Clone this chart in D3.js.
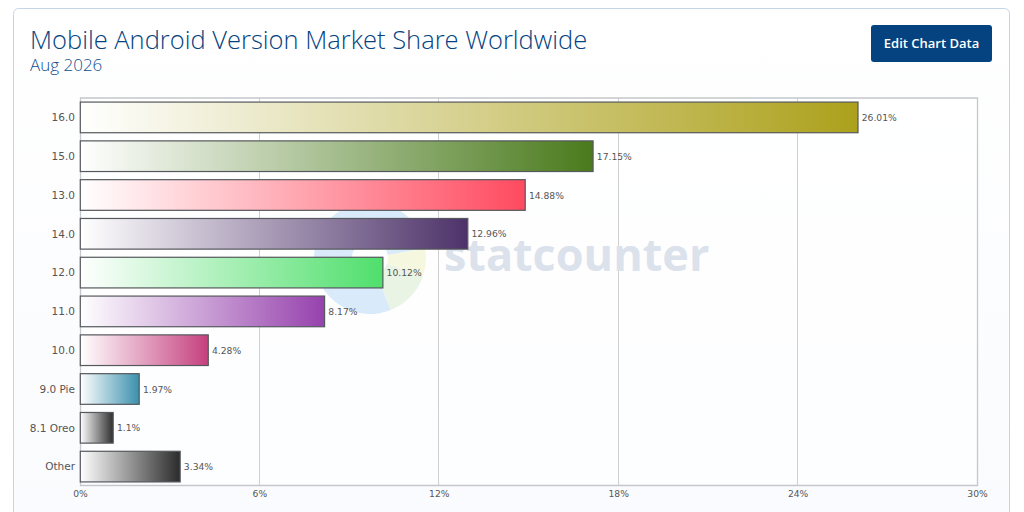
<!DOCTYPE html>
<html>
<head>
<meta charset="utf-8">
<script src="https://cdn.jsdelivr.net/npm/d3@7"></script>
<style>
html, body { margin: 0; padding: 0; background: #fff; overflow: hidden; }
text { font-family: "DejaVu Sans", sans-serif; }
</style>
</head>
<body>
<div id="chart"></div>
<script>
var versions = ["16.0", "15.0", "13.0", "14.0", "12.0", "11.0", "10.0", "9.0 Pie", "8.1 Oreo", "Other"];
var shares = [26.01, 17.15, 14.88, 12.96, 10.12, 8.17, 4.28, 1.97, 1.1, 3.34];
var barColors = ["#aca11c", "#4a7a1c", "#ff4a5f", "#4d3269", "#4fdf6c", "#9642ad", "#c5407e", "#3a90ad", "#2e2e2e", "#2b2b2b"];
var xTicks = [0, 6, 12, 18, 24, 30];

var svgWidth = 1024;
var svgHeight = 512;
var margin = { top: 98, right: 47, bottom: 26, left: 80 };

var svg = d3.select("#chart")
    .append("svg")
    .attr("width", svgWidth)
    .attr("height", svgHeight)
    .style("display", "block");

var defs = svg.append("defs");

var cardGrad = defs.append("linearGradient")
    .attr("id", "cardGrad")
    .attr("x1", 0).attr("y1", 0).attr("x2", 0).attr("y2", 1);
cardGrad.append("stop").attr("offset", "0%").attr("stop-color", "#ffffff");
cardGrad.append("stop").attr("offset", "100%").attr("stop-color", "#fafbfe");

// one white-to-colour gradient per bar
versions.forEach(function (v, i) {
    var g = defs.append("linearGradient")
        .attr("id", "barGrad" + i)
        .attr("x1", 0).attr("y1", 0).attr("x2", 1).attr("y2", 0);
    g.append("stop").attr("offset", "0%").attr("stop-color", "#ffffff");
    g.append("stop").attr("offset", "100%").attr("stop-color", barColors[i]);
});

// card
svg.append("rect")
    .attr("x", 13.5).attr("y", 8.5)
    .attr("width", 996).attr("height", 530)
    .attr("rx", 5)
    .attr("fill", "url(#cardGrad)")
    .attr("stroke", "#c5d5e8");

// heading
svg.append("text")
    .attr("x", 30).attr("y", 49)
    .style("font-family", "'Open Sans'")
    .style("font-weight", 300)
    .style("font-size", "25.5px")
    .attr("fill", "#04437f")
    .text("Mobile Android Version Market Share Worldwide");

svg.append("text")
    .attr("x", 30).attr("y", 71)
    .style("font-family", "'Open Sans'")
    .style("font-weight", 300)
    .style("font-size", "17px")
    .attr("fill", "#0f4f8f")
    .text("Aug 2026");

// button
svg.append("rect")
    .attr("x", 871).attr("y", 25)
    .attr("width", 121).attr("height", 37)
    .attr("rx", 3)
    .attr("fill", "#04437f");

svg.append("text")
    .attr("x", 931.5).attr("y", 48)
    .attr("text-anchor", "middle")
    .style("font-family", "'Open Sans'")
    .style("font-weight", 600)
    .style("font-size", "13px")
    .attr("fill", "#ffffff")
    .text("Edit Chart Data");

var xScale = d3.scaleLinear()
    .domain([0, 30])
    .range([margin.left, svgWidth - margin.right]);

var yScale = d3.scaleBand()
    .domain(versions)
    .range([margin.top, svgHeight - margin.bottom])
    .paddingInner(0.21)
    .paddingOuter(0.105);

// plot background
svg.append("rect")
    .attr("x", margin.left).attr("y", margin.top)
    .attr("width", xScale(30) - xScale(0))
    .attr("height", svgHeight - margin.bottom - margin.top)
    .attr("fill", "#ffffff")
    .attr("fill-opacity", 0.5);

// gridlines
svg.append("g")
    .selectAll("line")
    .data(xTicks)
    .enter()
    .append("line")
    .attr("x1", d => Math.floor(xScale(d)) + 0.5)
    .attr("x2", d => Math.floor(xScale(d)) + 0.5)
    .attr("y1", margin.top)
    .attr("y2", svgHeight - margin.bottom)
    .attr("stroke", "#d0d0d0");

// watermark
var logo = svg.append("g").attr("transform", "translate(370, 258)");
var logoArc = d3.arc().innerRadius(18).outerRadius(56);
logo.append("path")
    .attr("d", logoArc({ startAngle: 2.76, endAngle: 7.68 }))
    .attr("fill", "#d9ebfa");
logo.append("path")
    .attr("d", logoArc({ startAngle: 1.4, endAngle: 1.9 }))
    .attr("fill", "#f5f8df");
logo.append("path")
    .attr("d", logoArc({ startAngle: 1.9, endAngle: 2.76 }))
    .attr("fill", "#e9f4e4");

svg.append("text")
    .attr("x", 444).attr("y", 271)
    .style("font-family", "'Open Sans'")
    .style("font-weight", 700)
    .style("font-size", "45px")
    .attr("fill", "#dbe2ec")
    .text("statcounter");

// plot frame
svg.append("path")
    .attr("d", `M${xScale(0) + 0.5},${margin.top}H${xScale(30) + 0.5}V${svgHeight - margin.bottom - 0.5}H${xScale(0) + 0.5}Z`)
    .attr("fill", "none")
    .attr("stroke", "#c4c7cc")
    .attr("stroke-width", 1.3);

// bars
svg.append("g")
    .selectAll("rect")
    .data(shares)
    .enter()
    .append("rect")
    .attr("x", xScale(0) + 0.3)
    .attr("y", (d, i) => yScale(versions[i]))
    .attr("width", d => xScale(d) - xScale(0))
    .attr("height", yScale.bandwidth())
    .attr("fill", (d, i) => `url(#barGrad${i})`)
    .attr("stroke", "#55585c")
    .attr("stroke-width", 1.2);

// value labels
svg.append("g")
    .selectAll("text")
    .data(shares)
    .enter()
    .append("text")
    .attr("x", d => xScale(d) + 4)
    .attr("y", (d, i) => yScale(versions[i]) + yScale.bandwidth() / 2 + 3.5)
    .style("font-size", "9.2px")
    .attr("fill", "#555555")
    .text(d => d + "%");

// category axis
var yAxis = d3.axisLeft(yScale).tickSize(0).tickPadding(5);
var yAxisGroup = svg.append("g")
    .attr("transform", `translate(${margin.left}, 0.5)`)
    .call(yAxis);
yAxisGroup.select(".domain").remove();
yAxisGroup.selectAll("text")
    .style("font-family", "'DejaVu Sans'")
    .style("font-size", "10.5px")
    .attr("fill", "#555555");

// value axis
var xAxis = d3.axisBottom(xScale)
    .tickValues(xTicks)
    .tickFormat(d => d + "%")
    .tickSize(0)
    .tickPadding(3);
var xAxisGroup = svg.append("g")
    .attr("transform", `translate(0, ${svgHeight - margin.bottom + 1})`)
    .call(xAxis);
xAxisGroup.select(".domain").remove();
xAxisGroup.selectAll("text")
    .style("font-family", "'DejaVu Sans'")
    .style("font-size", "9.2px")
    .attr("fill", "#555555");
</script>
</body>
</html>
